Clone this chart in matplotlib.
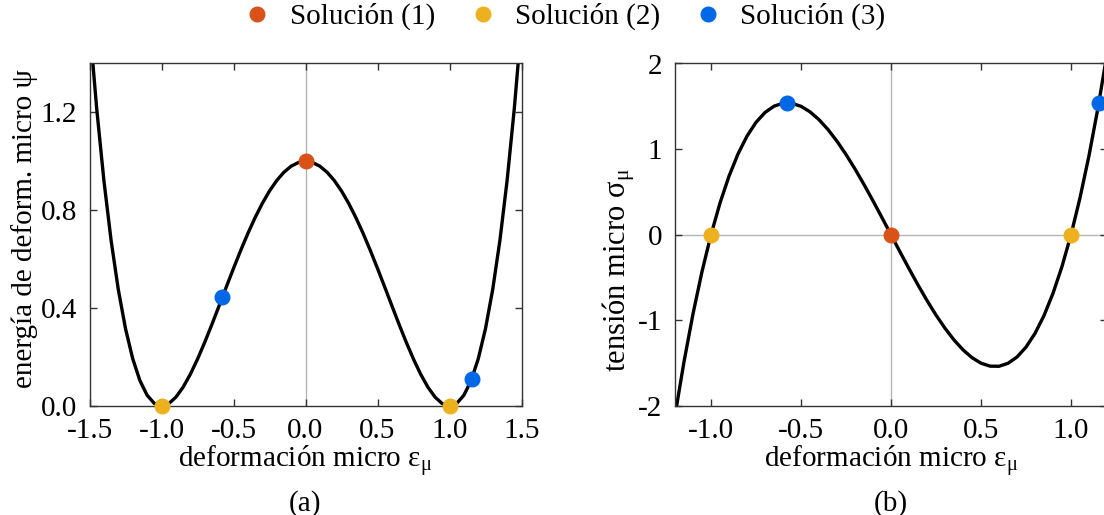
import matplotlib
matplotlib.use("Agg")
import matplotlib.pyplot as plt
from matplotlib.lines import Line2D

plt.rcParams['font.family'] = ['Liberation Serif', 'DejaVu Serif']
plt.rcParams['mathtext.fontset'] = 'custom'
plt.rcParams['mathtext.rm'] = 'Liberation Serif'
plt.rcParams['mathtext.it'] = 'Liberation Serif'
plt.rcParams['axes.unicode_minus'] = False

# ---- data: energy curve (panel a) ----
eps_a = [-1.50, -1.45, -1.40, -1.35, -1.30, -1.25, -1.20, -1.15, -1.10, -1.05,
         -1.00, -0.95, -0.90, -0.85, -0.80, -0.75, -0.70, -0.65, -0.60, -0.55,
         -0.50, -0.45, -0.40, -0.35, -0.30, -0.25, -0.20, -0.15, -0.10, -0.05,
         0.00, 0.05, 0.10, 0.15, 0.20, 0.25, 0.30, 0.35, 0.40, 0.45,
         0.50, 0.55, 0.60, 0.65, 0.70, 0.75, 0.80, 0.85, 0.90, 0.95,
         1.00, 1.05, 1.10, 1.15, 1.20, 1.25, 1.30, 1.35, 1.40, 1.45, 1.50]
psi = [1.5625, 1.2155, 0.9216, 0.6765, 0.4761, 0.3164, 0.1936, 0.1040, 0.0441, 0.0105,
       0.0000, 0.0095, 0.0361, 0.0770, 0.1296, 0.1914, 0.2601, 0.3335, 0.4096, 0.4865,
       0.5625, 0.6360, 0.7056, 0.7700, 0.8281, 0.8789, 0.9216, 0.9555, 0.9801, 0.9950,
       1.0000, 0.9950, 0.9801, 0.9555, 0.9216, 0.8789, 0.8281, 0.7700, 0.7056, 0.6360,
       0.5625, 0.4865, 0.4096, 0.3335, 0.2601, 0.1914, 0.1296, 0.0770, 0.0361, 0.0095,
       0.0000, 0.0105, 0.0441, 0.1040, 0.1936, 0.3164, 0.4761, 0.6765, 0.9216, 1.2155, 1.5625]

# ---- data: stress curve (panel b) ----
eps_b = [-1.20, -1.15, -1.10, -1.05, -1.00, -0.95, -0.90, -0.85, -0.80, -0.75,
         -0.70, -0.65, -0.60, -0.55, -0.50, -0.45, -0.40, -0.35, -0.30, -0.25,
         -0.20, -0.15, -0.10, -0.05, 0.00, 0.05, 0.10, 0.15, 0.20, 0.25,
         0.30, 0.35, 0.40, 0.45, 0.50, 0.55, 0.60, 0.65, 0.70, 0.75,
         0.80, 0.85, 0.90, 0.95, 1.00, 1.05, 1.10, 1.15, 1.20]
sigma = [-2.112, -1.4835, -0.924, -0.4305, 0.000, 0.3705, 0.684, 0.9435, 1.152, 1.3125,
         1.428, 1.5015, 1.536, 1.5345, 1.500, 1.4355, 1.344, 1.2285, 1.092, 0.9375,
         0.768, 0.5865, 0.396, 0.1995, 0.000, -0.1995, -0.396, -0.5865, -0.768, -0.9375,
         -1.092, -1.2285, -1.344, -1.4355, -1.500, -1.5345, -1.536, -1.5015, -1.428, -1.3125,
         -1.152, -0.9435, -0.684, -0.3705, 0.000, 0.4305, 0.924, 1.4835, 2.112]

# ---- solution points ----
sol_labels = ['Solución (1)', 'Solución (2)', 'Solución (3)']
sol_colors = ['#D95319', '#EDB120', '#0068E6']
sol_eps = [[0.0], [-1.0, 1.0], [-0.577, 1.155]]
sol_psi = [[1.0], [0.0, 0.0], [0.444, 0.111]]
sol_sigma = [[0.0], [0.0, 0.0], [1.540, 1.540]]

xticks_a = [-1.5, -1.0, -0.5, 0.0, 0.5, 1.0, 1.5]
yticks_a = [0.0, 0.4, 0.8, 1.2]
xticks_b = [-1.0, -0.5, 0.0, 0.5, 1.0]
yticks_b = [-2, -1, 0, 1, 2]

FS = 21
W, H = 1104, 515
fig = plt.figure(figsize=(W / 100, H / 100), dpi=100)

AX_H = 406 - 63.5
axa = fig.add_axes([89.5 / W, (H - 406) / H, (521.5 - 89.5) / W, AX_H / H])
axb = fig.add_axes([675 / W, (H - 406) / H, (1107 - 675) / W, AX_H / H])

spine_col = '#333333'
for ax in (axa, axb):
    for s in ax.spines.values():
        s.set_color(spine_col)
        s.set_linewidth(1.0)
    ax.tick_params(direction='in', length=5, width=1.0, color=spine_col,
                   top=True, right=True, labelsize=FS)
    ax.tick_params(axis='x', pad=8.5)
    ax.tick_params(axis='y', pad=9)

# panel a
axa.axvline(0, color='#b4b4b4', lw=1.0, zorder=1)
axa.plot(eps_a, psi, color='black', lw=2.4, zorder=2)
for xs, ys, c in zip(sol_eps, sol_psi, sol_colors):
    axa.plot(xs, ys, 'o', color=c, ms=10.5, zorder=5, clip_on=False)
axa.set_xlim(-1.5, 1.5)
axa.set_ylim(0, 1.4)
axa.set_xticks(xticks_a)
axa.set_xticklabels([f'{v:.1f}' for v in xticks_a])
axa.set_yticks(yticks_a)
axa.set_yticklabels([f'{v:.1f}' for v in yticks_a])
axa.set_xlabel('deformación micro ε$_{\\mathrm{\\mu}}$', fontsize=FS, labelpad=0)
axa.set_ylabel('energía de deform. micro ψ', fontsize=FS)
axa.yaxis.set_label_coords((25 - 89.5) / 432, (406 - 229) / AX_H)
axa.yaxis.label.set_verticalalignment('center')
axa.text(0.5, -0.245, '(a)', transform=axa.transAxes, ha='center', va='top', fontsize=FS)

# panel b
axb.axvline(0, color='#b4b4b4', lw=1.0, zorder=1)
axb.axhline(0, color='#b4b4b4', lw=1.0, zorder=1)
axb.plot(eps_b, sigma, color='black', lw=2.4, zorder=2)
for xs, ys, c in zip(sol_eps, sol_sigma, sol_colors):
    axb.plot(xs, ys, 'o', color=c, ms=10.5, zorder=5, clip_on=False)
axb.set_xlim(-1.2, 1.2)
axb.set_ylim(-2, 2)
axb.set_xticks(xticks_b)
axb.set_xticklabels([f'{v:.1f}' for v in xticks_b])
axb.set_yticks(yticks_b)
axb.set_yticklabels([str(v) for v in yticks_b])
axb.set_xlabel('deformación micro ε$_{\\mathrm{\\mu}}$', fontsize=FS, labelpad=0)
axb.set_ylabel('tensión micro σ$_{\\mathrm{\\mu}}$', fontsize=FS + 1)
axb.yaxis.set_label_coords((619 - 675) / 432, (406 - 270) / AX_H)
axb.yaxis.label.set_verticalalignment('center')
axb.text(0.5, -0.245, '(b)', transform=axb.transAxes, ha='center', va='top', fontsize=FS)

handles = [Line2D([], [], ls='none', marker='o', color=c, ms=10.5) for c in sol_colors]
fig.legend(handles, sol_labels, loc='upper center', bbox_to_anchor=(0.511, 1.045),
           ncol=3, frameon=False, fontsize=FS, handletextpad=0.6,
           columnspacing=1.15, handlelength=1.0)

fig.savefig('out.png', dpi=100)
